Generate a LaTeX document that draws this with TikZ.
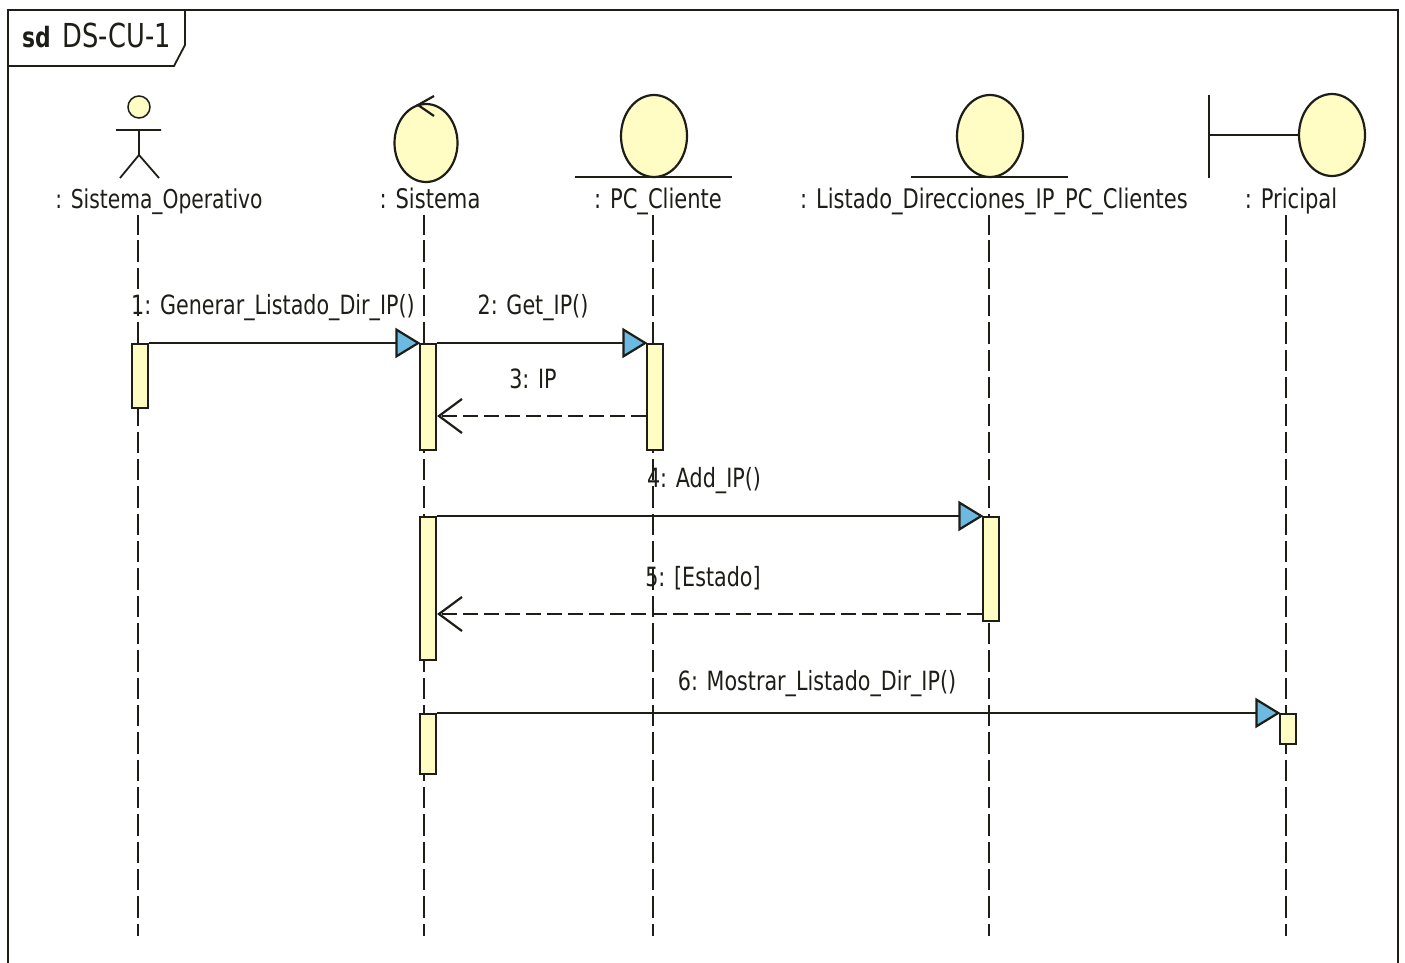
\documentclass[tikz,border=0pt]{standalone}
\usepackage{fontspec}
\setmainfont{DejaVu Sans}[FakeStretch=0.78]
\usetikzlibrary{arrows.meta,shapes.geometric}
\definecolor{umlyellow}{RGB}{255,252,196}
\definecolor{umlblue}{RGB}{108,186,226}
\definecolor{umlline}{RGB}{30,30,25}
\tikzset{
  lab/.style={inner sep=0pt,text=umlline,font=\fontsize{27}{30}\selectfont,anchor=base},
  msglab/.style={lab,font=\fontsize{26.5}{30}\selectfont},
  classcirc/.style={draw=umlline,line width=2.2pt,fill=umlyellow,ellipse,inner sep=0pt,minimum width=66pt,minimum height=82pt},
  actbar/.style={draw=umlline,line width=2.2pt,fill=umlyellow,rectangle,inner sep=0pt,minimum width=16pt,anchor=north},
  lifeline/.style={draw=umlline,line width=1.8pt,dash pattern=on 21.5pt off 5.83pt,dash phase=2pt},
  stroke/.style={draw=umlline,line width=2.2pt},
  syncmsg/.style={stroke,shorten >=-1.5pt,-{Triangle[length=25pt,width=30pt,fill=umlblue,line width=2.2pt]}},
  retmsg/.style={stroke,dash pattern=on 15pt off 6pt,-{Straight Barb[length=23pt,width=34pt,line width=2.2pt,line cap=butt]}}
}
\begin{document}
\begin{tikzpicture}[x=1pt,y=-1pt]
\useasboundingbox (0,0) rectangle (1405,963);
\fill[white] (0,0) rectangle (1405,963);
% frame
\coordinate (fbl) at (8,963);
\coordinate (ftl) at (8,10);
\coordinate (ftr) at (1398,10);
\coordinate (fbr) at (1398,963);
\draw[stroke] (fbl) -- (ftl) -- (ftr) -- (fbr);
\draw[stroke,line width=1.8pt] (185,10) -- (185,45) -- (174,66) -- (8,66);
\node[lab,anchor=base west,font=\fontsize{33}{36}\selectfont] (title) at (22,48) {{\fontsize{28}{30}\selectfont\textbf{sd}}\hspace{12pt}DS-CU-1};
% lifeline ends
\foreach \n/\x in {a/138,b/424,c/653,d/989,e/1286}{
  \coordinate (\n top) at (\x,215);
  \coordinate (\n end) at (\x,936);
  \draw[lifeline] (\n top) -- (\n end);
}
% labels
\node[lab,font=\fontsize{26}{30}\selectfont] (la) at (159,208) {: Sistema\_Operativo};
\node[lab] (lb) at (430,208) {: Sistema};
\node[lab] (lc) at (658,208) {: PC\_Cliente};
\node[lab] (ld) at (994,208) {: Listado\_Direcciones\_IP\_PC\_Clientes};
\node[lab] (le) at (1291,208) {: Pricipal};
% actor
\node[classcirc,minimum width=22pt,minimum height=22pt,line width=1.5pt,circle] (head) at (139,107) {};
\coordinate (arml) at (116,130);
\coordinate (armr) at (161,130);
\coordinate (neck) at (139,130);
\coordinate (hip) at (139,155);
\coordinate (legl) at (120,178);
\coordinate (legr) at (159,178);
\draw[stroke,line width=1.8pt] (arml) -- (armr) (neck) -- (hip) (legl) -- (hip) -- (legr);
% control
\node[classcirc,minimum width=63pt,minimum height=78pt] (ctrl) at (426,143) {};
\coordinate (ba) at (434,96);
\coordinate (bb) at (418,105);
\coordinate (bc) at (434,116);
\draw[stroke] (ba) -- (bb) -- (bc);
% entity
\node[classcirc] (ent1) at (654,136) {};
\coordinate (e1l) at (575,177);
\coordinate (e1r) at (732,177);
\draw[stroke] (e1l) -- (e1r);
\node[classcirc] (ent2) at (990,136) {};
\coordinate (e2l) at (911,177);
\coordinate (e2r) at (1068,177);
\draw[stroke] (e2l) -- (e2r);
% boundary
\node[classcirc] (bnd) at (1332,135) {};
\coordinate (bt) at (1209,95);
\coordinate (bm) at (1209,135);
\coordinate (bd) at (1209,178);
\draw[stroke] (bt) -- (bd);
\draw[stroke] (bm) -- (bnd.west);
% activation bars
\node[actbar,minimum height=64pt] (a1) at (140,343) {};
\node[actbar,minimum height=106pt] (b1) at (428,343) {};
\node[actbar,minimum height=106pt] (c1) at (655,343) {};
\node[actbar,minimum height=143pt] (b2) at (428,516) {};
\node[actbar,minimum height=104pt] (d1) at (991,516) {};
\node[actbar,minimum height=60pt] (b3) at (428,713) {};
\node[actbar,minimum height=30pt] (e1) at (1288,713) {};
% messages
\draw[syncmsg] (a1.north east) -- (b1.north west);
\draw[syncmsg] (b1.north east) -- (c1.north west);
\draw[retmsg] (c1.west |- 0,416) -- (b1.east |- 0,416);
\draw[syncmsg] (b2.north east) -- (d1.north west);
\draw[retmsg] (d1.west |- 0,614) -- (b2.east |- 0,614);
\draw[syncmsg] (b3.north east) -- (e1.north west);
% message labels
\node[msglab] (m1) at (273,314) {1: Generar\_Listado\_Dir\_IP()};
\node[msglab] (m2) at (533,314) {2: Get\_IP()};
\node[msglab] (m3) at (533,388) {3: IP};
\node[msglab] (m4) at (704,487) {4: Add\_IP()};
\node[msglab] (m5) at (703,586) {5: [Estado]};
\node[msglab] (m6) at (817,690) {6: Mostrar\_Listado\_Dir\_IP()};
\end{tikzpicture}
\end{document}
